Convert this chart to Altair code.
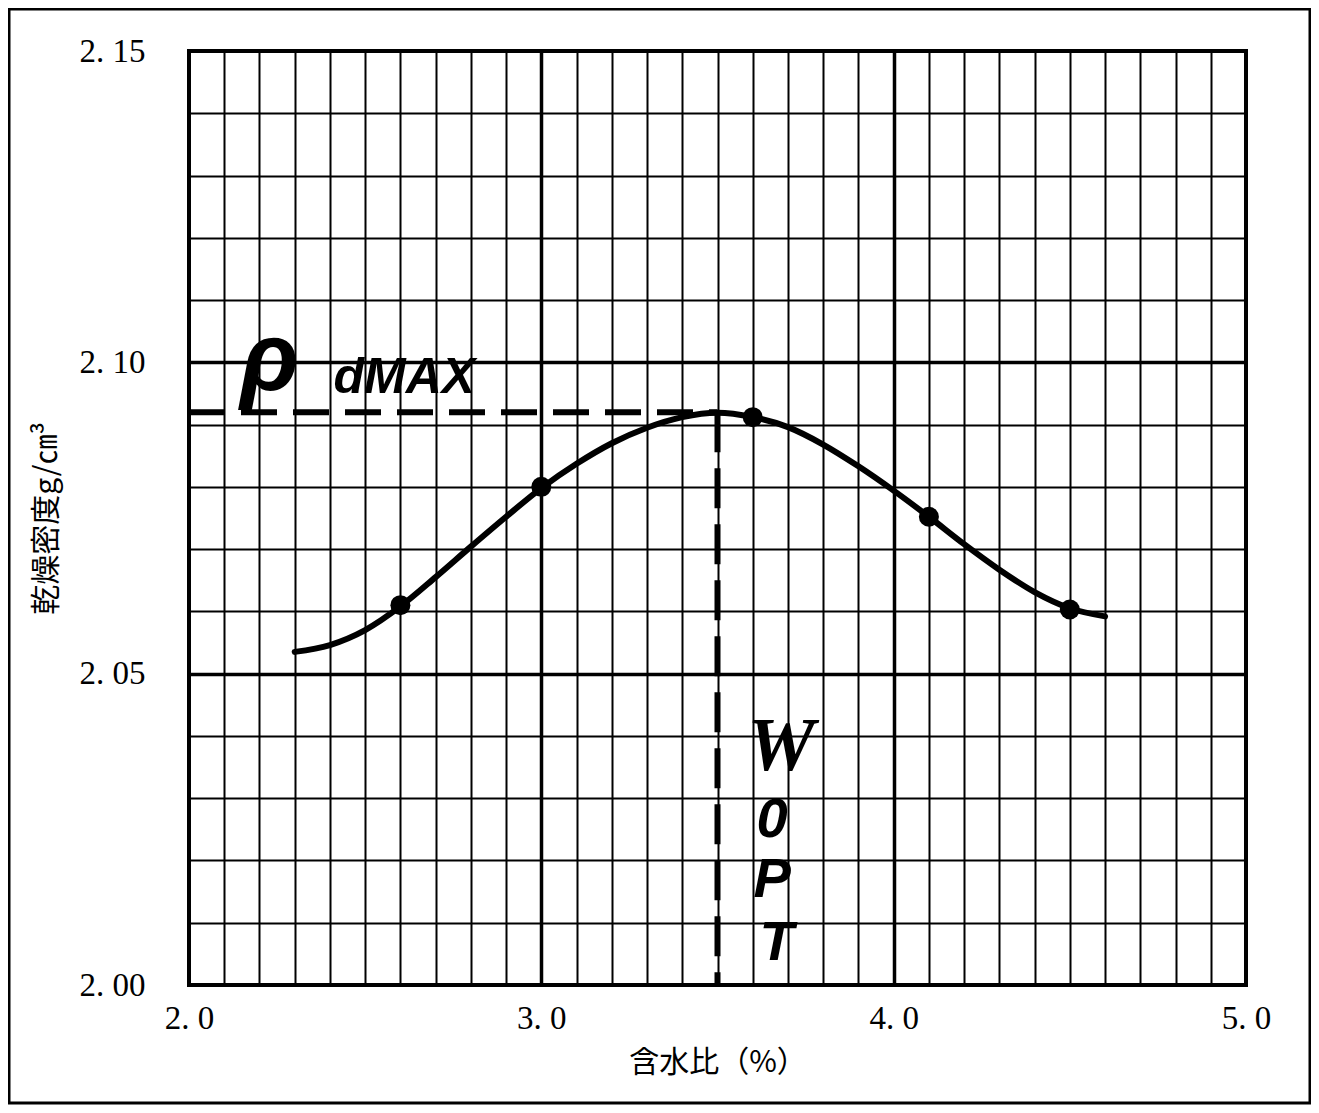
import altair as alt
import pandas as pd

# ---- data ----
curve_x = [2.3, 2.4, 2.5, 2.6, 2.7, 2.8, 2.9, 3.0, 3.1, 3.2, 3.3, 3.4, 3.5,
           3.6, 3.7, 3.8, 3.9, 4.0, 4.1, 4.2, 4.3, 4.4, 4.5, 4.6]
curve_y = [2.0535, 2.0546, 2.0570, 2.0608, 2.0655, 2.0704, 2.0752, 2.0798,
           2.0837, 2.0870, 2.0895, 2.0912, 2.0919, 2.0912, 2.0896, 2.0868,
           2.0833, 2.0794, 2.0752, 2.0708, 2.0667, 2.0631, 2.0605, 2.0592]
point_x = [2.6, 3.0, 3.6, 4.1, 4.5]
point_y = [2.0610, 2.0800, 2.0912, 2.0752, 2.0603]

rho_dmax = 2.092
w_opt = 3.5

x_ticks = [round(2.0 + 0.1 * i, 1) for i in range(31)]
y_ticks = [round(2.0 + 0.01 * i, 2) for i in range(16)]

LABEL_FONT = "Liberation Serif"
CJK_FONT = "Noto Sans CJK JP"

x_scale = alt.Scale(domain=[2.0, 5.0], nice=False, zero=False)
y_scale = alt.Scale(domain=[2.0, 2.15], nice=False, zero=False)

x_axis = alt.Axis(
    values=x_ticks, tickCount=100,
    title="含水比（%）",
    labelExpr="abs(datum.value - round(datum.value)) < 0.001 ? replace(format(datum.value, '.1f'), '.', '. ') : ''",
    grid=True, gridColor="black", gridOpacity=1,
    gridWidth={"condition": {"test": "abs(datum.value - 3) < 0.001 || abs(datum.value - 4) < 0.001", "value": 3.5}, "value": 2},
    ticks=False, domain=False,
    labelFont=LABEL_FONT, labelFontSize=33, labelColor="black",
    labelPadding=17, labelOverlap=False, labelFlush=False, labelBound=False,
    titleFont=CJK_FONT, titleFontSize=30, titleFontWeight="normal",
    titleColor="black", titlePadding=12,
)
y_axis = alt.Axis(
    values=y_ticks, tickCount=100,
    title="乾燥密度g/㎝³",
    labelExpr="round(datum.value * 100) % 5 == 0 ? replace(format(datum.value, '.2f'), '.', '. ') : ''",
    grid=True, gridColor="black", gridOpacity=1,
    gridWidth={"condition": {"test": "abs(datum.value - 2.05) < 0.0001 || abs(datum.value - 2.1) < 0.0001", "value": 3.5}, "value": 2},
    ticks=False, domain=False,
    labelFont=LABEL_FONT, labelFontSize=33, labelColor="black",
    labelPadding=44, labelOverlap=False, labelFlush=False, labelBound=False,
    titleFont=CJK_FONT, titleFontSize=30, titleFontWeight="normal",
    titleColor="black", titlePadding=18,
)

curve = alt.Chart(pd.DataFrame({"x": curve_x, "y": curve_y})).mark_line(
    color="black", strokeWidth=6, interpolate="monotone", strokeCap="round"
).encode(
    x=alt.X("x:Q", scale=x_scale, axis=x_axis),
    y=alt.Y("y:Q", scale=y_scale, axis=y_axis),
)

points = alt.Chart(pd.DataFrame({"x": point_x, "y": point_y})).mark_circle(
    color="black", size=400, opacity=1
).encode(x="x:Q", y="y:Q")

hdash = alt.Chart(pd.DataFrame({"x": [2.0], "x2": [w_opt], "y": [rho_dmax]})).mark_rule(
    color="black", strokeWidth=6, strokeDash=[36, 16]
).encode(x="x:Q", x2="x2:Q", y="y:Q")

vdash = alt.Chart(pd.DataFrame({"x": [w_opt], "y": [rho_dmax], "y2": [2.0]})).mark_rule(
    color="black", strokeWidth=6, strokeDash=[40, 16]
).encode(x="x:Q", y="y:Q", y2="y2:Q")

rho = alt.Chart(pd.DataFrame({"x": [2.228], "y": [2.0955], "t": ["ρ"]})).mark_text(
    font="Liberation Sans", fontSize=96, fontWeight="bold", fontStyle="italic",
    align="center", baseline="alphabetic", color="black"
).encode(x="x:Q", y="y:Q", text="t:N")

dmax = alt.Chart(pd.DataFrame({"x": [2.41], "y": [2.0951], "t": ["dMAX"]})).mark_text(
    font="Liberation Sans", fontSize=50, fontWeight="bold", fontStyle="italic",
    align="left", baseline="alphabetic", color="black"
).encode(x="x:Q", y="y:Q", text="t:N")

w_text = alt.Chart(pd.DataFrame({"x": [3.68], "y": [2.0345], "t": ["W"]})).mark_text(
    font="Liberation Serif", fontSize=76, fontWeight="bold", fontStyle="italic",
    align="center", baseline="alphabetic", color="black"
).encode(x="x:Q", y="y:Q", text="t:N")

opt_text = alt.Chart(pd.DataFrame({
    "x": [3.655, 3.655, 3.668],
    "y": [2.0238, 2.0141, 2.0040],
    "t": ["0", "P", "T"],
})).mark_text(
    font="Liberation Sans", fontSize=56, fontWeight="bold", fontStyle="italic",
    align="center", baseline="alphabetic", color="black"
).encode(x="x:Q", y="y:Q", text="t:N")

frame = alt.Chart(alt.Data(values=[{"f": 1}])).mark_rect(
    fill=None, stroke="black", strokeWidth=3
).encode(x=alt.value(-180), x2=alt.value(1121), y=alt.value(-42), y2=alt.value(1052))

chart = alt.layer(curve, hdash, vdash, points, rho, dmax, w_text, opt_text, frame).properties(
    width=1057, height=934,
    autosize=alt.AutoSizeParams(type="none"),
    padding={"left": 181, "top": 43, "right": 65, "bottom": 120},
    background="white",
).configure_view(stroke="black", strokeWidth=4)

chart.save("out.html", embed_options={"renderer": "svg", "actions": False})
